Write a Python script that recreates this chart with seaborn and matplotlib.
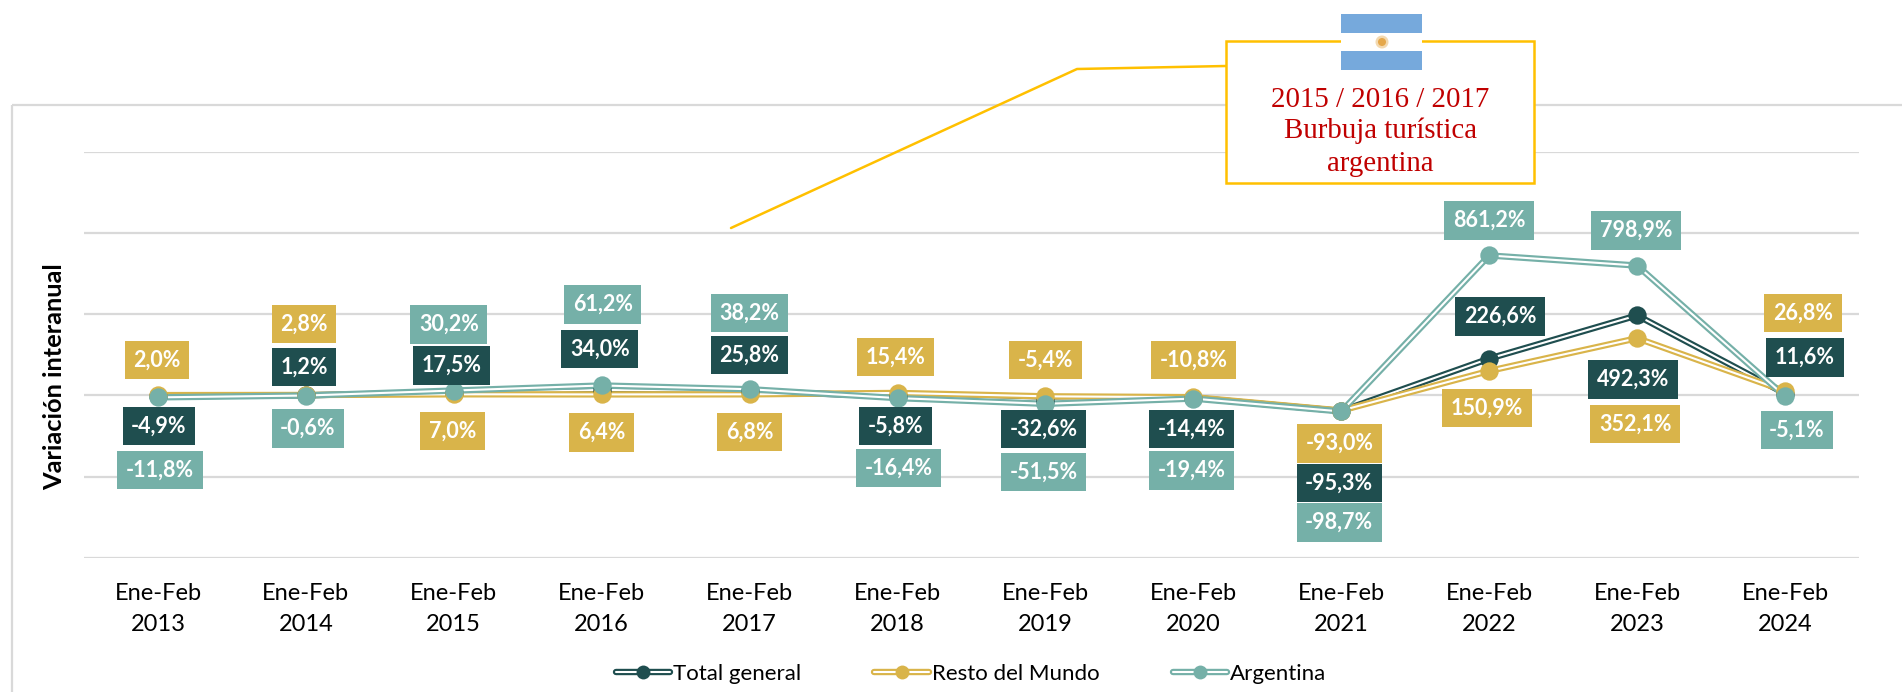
import matplotlib
matplotlib.use("Agg")
import matplotlib.pyplot as plt
import matplotlib.patheffects as pe
from matplotlib.legend_handler import HandlerTuple
from matplotlib.lines import Line2D
from matplotlib.patches import Circle, Rectangle
from matplotlib.transforms import Affine2D
import seaborn as sns

periods = ["Ene-Feb\n{}".format(y) for y in range(2013, 2025)]

total_general = [-4.9, 1.2, 17.5, 34.0, 25.8, -5.8, -32.6, -14.4, -95.3, 226.6, 492.3, 11.6]
resto_mundo   = [2.0, 2.8, 7.0, 6.4, 6.8, 15.4, -5.4, -10.8, -93.0, 150.9, 352.1, 26.8]
argentina     = [-11.8, -0.6, 30.2, 61.2, 38.2, -16.4, -51.5, -19.4, -98.7, 861.2, 798.9, -5.1]

# label offsets from each point, in pixels
total_off = [(1, -30), (-2, 28), (-2, 27), (-2, 41), (0, 36), (-2, -30), (-2, -28), (-2, -31), (-2, -72), (11, 42), (-4, -64), (20, 36)]
resto_off = [(-1, 35), (-2, 71), (-1, -37), (0, -38), (0, -38), (-2, 36), (0, 36), (0, 37), (-2, -33), (-2, -37), (-2, -86), (18, 78)]
arg_off   = [(2, -73), (2, -33), (-5, 66), (1, 81), (0, 76), (1, -70), (-2, -68), (-2, -72), (-2, -111), (0, 35), (-1, 35), (12, -34)]

DARK, GOLD, TEAL = "#1F4E4F", "#D9B44A", "#75B0A8"
GRID = "#D9D9D9"
series = [
    ("Total general", total_general, DARK, total_off),
    ("Resto del Mundo", resto_mundo, GOLD, resto_off),
    ("Argentina", argentina, TEAL, arg_off),
]

sns.set_style("whitegrid")
plt.rcParams["font.family"] = ["Lato", "DejaVu Sans"]

W, H = 1902, 692
fig = plt.figure(figsize=(W / 100, H / 100), dpi=100)
px = Affine2D().scale(1, -1).translate(0, H)  # figure pixels, y going down
ax = fig.add_axes([84 / W, (H - 558) / H, 1775 / W, 406.4 / H])


def double_line(color):
    return [pe.Stroke(linewidth=4.6, foreground=color), pe.Stroke(linewidth=1.5, foreground="white")]


for name, values, color, offsets in series:
    sns.lineplot(x=periods, y=values, sort=False, errorbar=None, color=color, ax=ax, zorder=3, clip_on=False,
                 path_effects=double_line(color))
    sns.scatterplot(x=periods, y=values, color=color, s=175, linewidth=0, ax=ax, zorder=4, clip_on=False)

for name, values, color, offsets in series:
    for i, v in enumerate(values):
        txt = "{:.1f}%".format(v).replace(".", ",")
        ax.annotate(txt, xy=(i, v), xytext=offsets[i], textcoords="offset pixels", ha="center", va="center",
                    color="white", fontsize=15.5, fontweight="bold", zorder=5, annotation_clip=False,
                    bbox=dict(boxstyle="square,pad=0.40", fc=color, ec="none"))

ax.set_xlim(-0.5, 11.5)
ax.set_ylim(-1000, 1500)
ax.set_yticks([-1000, -500, 0, 500, 1000, 1500])
ax.set_yticklabels([])
ax.grid(axis="x", visible=False)
ax.grid(axis="y", color=GRID, linewidth=1.6)
ax.tick_params(axis="both", length=0)
ax.tick_params(axis="x", labelsize=17, pad=18, labelcolor="black")
for lab in ax.get_xticklabels():
    lab.set_linespacing(1.57)
for s in ax.spines.values():
    s.set_visible(False)
ax.set_ylabel("Variación interanual", fontsize=18.3, fontweight="bold", color="black")
ax.yaxis.set_label_coords((66 - 84) / 1775, (558 - 377) / 406.4)
ax.set_xlabel("")

handles = []
for name, values, color, offsets in series:
    stroke = Line2D([], [], color=color, path_effects=double_line(color))
    dot = Line2D([], [], color=color, marker="o", markersize=10, markeredgewidth=0, linestyle="none")
    handles.append((stroke, dot))
fig.legend(handles, [s[0] for s in series], handler_map={tuple: HandlerTuple(ndivide=1, pad=0)},
           loc="center", bbox_to_anchor=(971 / W, (H - 674) / H), ncol=3, frameon=False, fontsize=16,
           handlelength=2.45, handletextpad=0.13, columnspacing=3.3, labelcolor="black")

# outer chart frame
fig.add_artist(Rectangle((12, 105), 1950, 700, transform=px, fill=False, ec=GRID, lw=1.6, zorder=1))

# callout
fig.add_artist(Line2D([731, 1077, 1226], [228, 69, 66], transform=px, color="#FFC000", lw=1.8, zorder=2))
fig.add_artist(Rectangle((1226, 41), 308, 142, transform=px, fc="white", ec="#FFC000", lw=1.8, zorder=3))
for line, y in zip(["2015 / 2016 / 2017", "Burbuja turística", "argentina"], [100, 131, 164]):
    fig.text(1380 / W, (H - y) / H, line, color="#C00000", fontsize=20.8, family="Liberation Serif",
             ha="center", va="center", zorder=4)

# flag
fig.add_artist(Rectangle((1341, 14), 81, 56, transform=px, fc="white", ec="none", zorder=5))
fig.add_artist(Rectangle((1341, 14), 81, 18.5, transform=px, fc="#76A9DC", ec="none", zorder=6))
fig.add_artist(Rectangle((1341, 51), 81, 19, transform=px, fc="#76A9DC", ec="none", zorder=6))
fig.add_artist(Circle((1382, 42), 6.5, transform=px, fc="#F3D9B0", ec="none", zorder=6))
fig.add_artist(Circle((1382, 42), 4, transform=px, fc="#E5A84B", ec="none", zorder=7))

fig.savefig("out.png", dpi=100)
